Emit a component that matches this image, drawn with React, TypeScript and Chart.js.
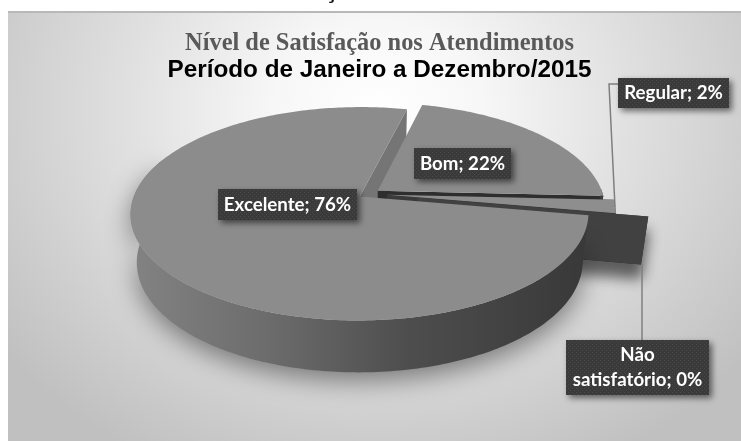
import React, { useEffect, useRef } from "react";
import { Chart, registerables, PieController, ArcElement } from "chart.js";

const TITLE = "Nível de Satisfação nos Atendimentos";
const SUBTITLE = "Período de Janeiro a Dezembro/2015";
const CATEGORIES = ["Excelente", "Bom", "Regular", "Não satisfatório"];
const VALUES = [76, 22, 2, 0];
const EXPLODE = [11, 11, 18, 49];
const TOP_COLORS = ["#8c8c8c", "#8c8c8c", "#8e8e8e", "#404040"];
const CUT_COLORS = ["#757575", "#2e2e2e", "#3a3a3a", "#414141"];
const LABEL_BOXES = [
  { x: 218, y: 189, w: 139, h: 31 },
  { x: 414, y: 148, w: 97, h: 31 },
  { x: 618, y: 78, w: 111, h: 30 },
  { x: 566, y: 340, w: 143, h: 55 },
];
const LEADERS: number[][][] = [
  [],
  [],
  [[618, 84], [609, 84], [615, 207]],
  [[642, 264], [642, 340]],
];

const K = 0.16;
const SQUASH = 0.458;
const SHRINK = 0.026;
const DEPTH = 47;
const DEPTH_V = 8;
const SHIFT_X = -10.5;

function rimPaint(ctx: CanvasRenderingContext2D, i: number) {
  if (i !== 0) return "#3a3a3a";
  const g = ctx.createLinearGradient(130, 0, 590, 0);
  g.addColorStop(0, "#838383");
  g.addColorStop(0.3, "#6c6c6c");
  g.addColorStop(0.6, "#4e4e4e");
  g.addColorStop(1, "#383838");
  return g;
}

class Arc3D extends ArcElement {
  static id = "arc3d";
  paint(ctx: CanvasRenderingContext2D, index: number, part: "cuts" | "body") {
    const { x, y, startAngle: a, endAngle: b, outerRadius: R } = this as any;
    const opts = (this as any).options;
    const cx = x + SHIFT_X;
    const mid = (a + b) / 2;
    const du = ((opts.offset || 0) / R) * Math.cos(mid);
    const dv = ((opts.offset || 0) / R) * Math.sin(mid);
    const proj = (th: number, r: number, w: number): [number, number] => {
      const u = r * Math.cos(th) + du;
      const v = r * Math.sin(th) + dv;
      const f = 1 / (1 - K * v);
      const g = 1 - SHRINK * w;
      return [cx + R * u * f * g, y + R * SQUASH * v * f * g + w * (DEPTH + DEPTH_V * v)];
    };
    const poly = (pts: [number, number][]) => {
      ctx.beginPath();
      pts.forEach((p, i) => (i ? ctx.lineTo(p[0], p[1]) : ctx.moveTo(p[0], p[1])));
      ctx.closePath();
    };
    const arc = (w: number, from: number, to: number) => {
      const n = Math.max(1, Math.ceil(((to - from) * 180) / Math.PI));
      const out: [number, number][] = [];
      for (let i = 0; i <= n; i++) out.push(proj(from + ((to - from) * i) / n, 1, w));
      return out;
    };
    ctx.save();
    if (part === "cuts") {
      if (index === 3) {
        ctx.shadowColor = "rgba(0,0,0,0.35)";
        ctx.shadowBlur = 14;
        ctx.shadowOffsetY = 14;
      }
      // the leading cut of the second slice faces away from the viewer
      const faces = index === 1 ? [b] : [a, b];
      for (const th of faces) {
        poly([proj(th, 0, 0), proj(th, 1, 0), proj(th, 1, 1), proj(th, 0, 1)]);
        ctx.fillStyle = CUT_COLORS[index];
        ctx.fill();
      }
    } else if (b - a > 0.001) {
      if (index === 0) {
        ctx.shadowColor = "rgba(0,0,0,0.45)";
        ctx.shadowBlur = 26;
        ctx.shadowOffsetY = 8;
      }
      // only the part of the rim that faces the viewer is ever visible
      const rimEnd = index === 0 ? Math.min(b, Math.PI * 1.12) : b;
      const rimStart = index === 1 ? Math.max(a, Math.PI * 2 - 0.02) : a;
      poly([...arc(0, rimStart, rimEnd), ...arc(1, rimStart, rimEnd).reverse()]);
      ctx.fillStyle = rimPaint(ctx, index);
      ctx.fill();
      ctx.shadowColor = "transparent";
      ctx.shadowBlur = 0;
      ctx.shadowOffsetY = 0;
      poly([proj(a, 0, 0), ...arc(0, a, b)]);
      ctx.fillStyle = TOP_COLORS[index];
      ctx.fill();
    }
    ctx.restore();
  }
  draw(ctx: CanvasRenderingContext2D) {
    this.paint(ctx, 0, "body");
  }
}

class Pie3DController extends PieController {
  static id = "pie3d";
  static defaults = { dataElementType: "arc3d" };
  draw() {
    const { ctx } = (this as any).chart;
    const data = (this as any)._cachedMeta.data;
    // back to front: the big slice's cut face sits behind everything else, its body in front
    data[0].paint(ctx, 0, "cuts");
    for (const i of [1, 2, 3]) {
      data[i].paint(ctx, i, "cuts");
      data[i].paint(ctx, i, "body");
    }
    data[0].paint(ctx, 0, "body");
  }
}

const backdrop = {
  id: "backdrop",
  beforeDraw(chart: any) {
    const { ctx, width, height } = chart;
    ctx.save();
    ctx.fillStyle = "#fff";
    ctx.fillRect(0, 0, width, height);
    ctx.fillStyle = "#111";
    ctx.font = "bold 23px 'Liberation Serif'";
    ctx.textAlign = "center";
    ctx.fillText("ç", 331, -2);
    ctx.save();
    ctx.beginPath();
    ctx.rect(8, 12, width - 8, height - 12);
    ctx.clip();
    ctx.translate(378, 110);
    ctx.scale(1, 0.85);
    const g = ctx.createRadialGradient(0, 0, 0, 0, 0, 470);
    g.addColorStop(0, "#ffffff");
    g.addColorStop(0.22, "#f7f7f7");
    g.addColorStop(0.55, "#dfdfdf");
    g.addColorStop(1, "#c0c0c0");
    ctx.fillStyle = g;
    ctx.fillRect(-420, -150, 800, 600);
    ctx.restore();
    ctx.fillStyle = "#b8b8b8";
    ctx.fillRect(8, 11, width - 8, 2);
    ctx.restore();
  },
};

const labelsPlugin = {
  id: "boxLabels",
  afterDatasetsDraw(chart: any) {
    const { ctx } = chart;
    const cv = document.createElement("canvas");
    cv.width = 4;
    cv.height = 4;
    const p = cv.getContext("2d")!;
    p.fillStyle = "#3a3a3a";
    p.fillRect(0, 0, 4, 4);
    p.fillStyle = "#4a4a4a";
    p.fillRect(0, 0, 1, 1);
    p.fillRect(2, 2, 1, 1);
    const pattern = ctx.createPattern(cv, "repeat");
    ctx.save();
    CATEGORIES.forEach((name, i) => {
      const box = LABEL_BOXES[i];
      const line = LEADERS[i];
      if (line.length) {
        ctx.beginPath();
        line.forEach((pt, j) => (j ? ctx.lineTo(pt[0], pt[1]) : ctx.moveTo(pt[0], pt[1])));
        ctx.strokeStyle = "#7f7f7f";
        ctx.lineWidth = 1.5;
        ctx.stroke();
      }
      ctx.save();
      ctx.shadowColor = "rgba(0,0,0,0.55)";
      ctx.shadowBlur = 6;
      ctx.shadowOffsetX = 3;
      ctx.shadowOffsetY = 3;
      ctx.fillStyle = pattern;
      ctx.fillRect(box.x, box.y, box.w, box.h);
      ctx.restore();
      const text = `${name}; ${VALUES[i]}%`;
      const sp = text.indexOf(" ");
      const lines = name.includes(" ") ? [text.slice(0, sp), text.slice(sp + 1)] : [text];
      ctx.fillStyle = "#fff";
      ctx.font = "700 18.7px Lato";
      ctx.textAlign = "center";
      ctx.textBaseline = "middle";
      const lh = 25;
      const y0 = box.y + box.h / 2 - ((lines.length - 1) * lh) / 2;
      lines.forEach((t, j) => ctx.fillText(t, box.x + box.w / 2, y0 + j * lh));
    });
    ctx.restore();
  },
};

Chart.register(...registerables, Arc3D as any, Pie3DController as any);

export default function App() {
  const ref = useRef<HTMLCanvasElement>(null);
  useEffect(() => {
    const chart = new Chart(ref.current!, {
      type: "pie3d" as any,
      data: {
        labels: CATEGORIES,
        datasets: [
          {
            data: VALUES,
            offset: EXPLODE,
            backgroundColor: TOP_COLORS,
            borderWidth: 0,
          } as any,
        ],
      },
      options: {
        animation: false,
        responsive: false,
        events: [],
        rotation: 100,
        radius: 225,
        layout: { padding: { left: 18, right: 0, top: 0, bottom: 136 } },
        plugins: {
          legend: { display: false },
          tooltip: { enabled: false },
          title: {
            display: true,
            text: TITLE,
            color: "#595959",
            font: { family: "'Liberation Serif'", size: 24.4, weight: "bold", lineHeight: 1 },
            padding: { top: 32, bottom: 0 },
          },
          subtitle: {
            display: true,
            text: SUBTITLE,
            color: "#000",
            font: { family: "'Liberation Sans'", size: 24.3, weight: "bold", lineHeight: 1 },
            padding: { top: 2, bottom: 0 },
          },
        },
      } as any,
      plugins: [backdrop, labelsPlugin],
    });
    return () => chart.destroy();
  }, []);
  return (
    <canvas
      ref={ref}
      width={741}
      height={441}
      style={{ position: "fixed", left: 0, top: 0, display: "block" }}
    />
  );
}
